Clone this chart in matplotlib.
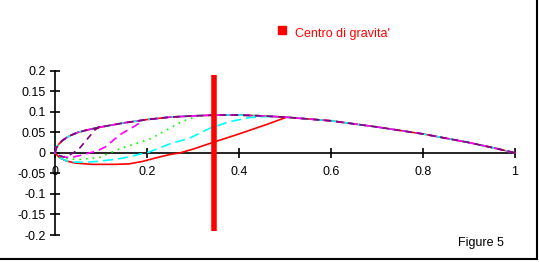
import matplotlib
matplotlib.use("Agg")
import matplotlib.pyplot as plt
from matplotlib.lines import Line2D

# Common upper surface (x, y)
upper_x = [0.0, 0.003, 0.008, 0.015, 0.025, 0.035, 0.05, 0.075, 0.1, 0.15, 0.2, 0.25, 0.3, 0.35, 0.4, 0.45, 0.5, 0.6, 0.7, 0.8, 0.9, 0.95, 1.0]
upper_y = [0.0, 0.012, 0.021, 0.029, 0.037, 0.043, 0.050, 0.057, 0.063, 0.073, 0.081, 0.087, 0.090, 0.092, 0.092, 0.090, 0.087, 0.078, 0.063, 0.046, 0.025, 0.013, 0.0]

# Lower surfaces, from leading edge to where they rejoin the upper surface
red_x = [0.0, 0.01, 0.025, 0.045, 0.08, 0.1, 0.13, 0.16, 0.19, 0.22, 0.25, 0.272, 0.3, 0.345, 0.4, 0.46, 0.504]
red_y = [0.0, -0.012, -0.020, -0.025, -0.028, -0.028, -0.028, -0.027, -0.021, -0.012, -0.004, 0.0, 0.009, 0.026, 0.046, 0.069, 0.087]

cyan_x = [0.0, 0.01, 0.03, 0.06, 0.09, 0.13, 0.16, 0.185, 0.2, 0.25, 0.293, 0.337, 0.38, 0.424, 0.47]
cyan_y = [0.0, -0.012, -0.022, -0.023, -0.021, -0.016, -0.010, -0.003, 0.0, 0.022, 0.036, 0.060, 0.076, 0.086, 0.089]

green_x = [0.0, 0.01, 0.03, 0.054, 0.098, 0.12, 0.141, 0.207, 0.25, 0.275, 0.31]
green_y = [0.0, -0.010, -0.015, -0.016, -0.011, 0.0, 0.010, 0.034, 0.060, 0.076, 0.089]

magenta_x = [0.0, 0.01, 0.033, 0.06, 0.075, 0.09, 0.109, 0.141, 0.159, 0.175, 0.19]
magenta_y = [0.0, -0.008, -0.012, -0.005, 0.0, 0.004, 0.014, 0.044, 0.056, 0.066, 0.078]

purple_x = [0.0, 0.008, 0.018, 0.03, 0.04, 0.054, 0.072, 0.087, 0.105]
purple_y = [0.0, -0.006, -0.010, -0.006, 0.0, 0.012, 0.036, 0.056, 0.070]

series = [
    ("#ff0000", "-", red_x, red_y),
    ("#00ffff", (0, (6, 3)), cyan_x, cyan_y),
    ("#00ff00", (0, (1, 3)), green_x, green_y),
    ("#ff00ff", (0, (5, 3)), magenta_x, magenta_y),
    ("#800080", (0, (4, 3)), purple_x, purple_y),
]

cg_x = 0.345
cg_y = [-0.19, 0.19]

x_ticks = [0, 0.2, 0.4, 0.6, 0.8, 1]
x_labels = ["0", "0.2", "0.4", "0.6", "0.8", "1"]
y_ticks = [0.2, 0.15, 0.1, 0.05, 0, -0.05, -0.1, -0.15, -0.2]
y_labels = ["0.2", "0.15", "0.1", "0.05", "0", "-0.05", "-0.1", "-0.15", "-0.2"]

plt.rcParams['font.family'] = ['Liberation Sans', 'DejaVu Sans']

W, H = 539, 262
fig = plt.figure(figsize=(W / 100, H / 100), dpi=100)
ax = fig.add_axes([55 / W, 1 - 235 / H, 460 / W, (235 - 70.7) / H])
ax.set_xlim(0, 1)
ax.set_ylim(-0.2, 0.2)

for color, ls, lx, ly in series:
    xs = upper_x[::-1] + lx[1:]
    ys = upper_y[::-1] + ly[1:]
    ax.plot(xs, ys, color=color, linestyle=ls, linewidth=1.2, clip_on=False)

ax.plot([cg_x, cg_x], cg_y, color="#ff0000", linewidth=4, solid_capstyle="butt")

for s in ["top", "right"]:
    ax.spines[s].set_visible(False)
ax.spines["bottom"].set_position(("data", 0))
ax.spines["left"].set_position(("data", 0))
for s in ["bottom", "left"]:
    ax.spines[s].set_linewidth(1.2)
    ax.spines[s].set_zorder(0.5)

ax.set_xticks(x_ticks)
ax.set_xticklabels(x_labels)
ax.set_yticks(y_ticks)
ax.set_yticklabels(y_labels)
ax.tick_params(axis="both", direction="inout", length=7, width=1.2, labelsize=9, colors="black")
ax.tick_params(axis="x", pad=6)
ax.tick_params(axis="y", pad=3)
ax.patch.set_visible(False)

# Legend
fig.add_artist(Line2D([282 / W], [1 - 30 / H], marker="s", markersize=6, color="#ff0000", linestyle="none"))
fig.text(295 / W, 1 - 34 / H, "Centro di gravita'", color="#ff0000", fontsize=9, va="center", ha="left")

fig.text(458 / W, 1 - 243 / H, "Figure 5", color="black", fontsize=9, va="center", ha="left")

# Border at right and bottom
fig.add_artist(Line2D([537 / W, 537 / W], [1 - 259 / H, 1], color="black", linewidth=1.5))
fig.add_artist(Line2D([0, 537 / W], [1 - 259 / H, 1 - 259 / H], color="black", linewidth=1.5))

fig.savefig("out.png", dpi=100)
